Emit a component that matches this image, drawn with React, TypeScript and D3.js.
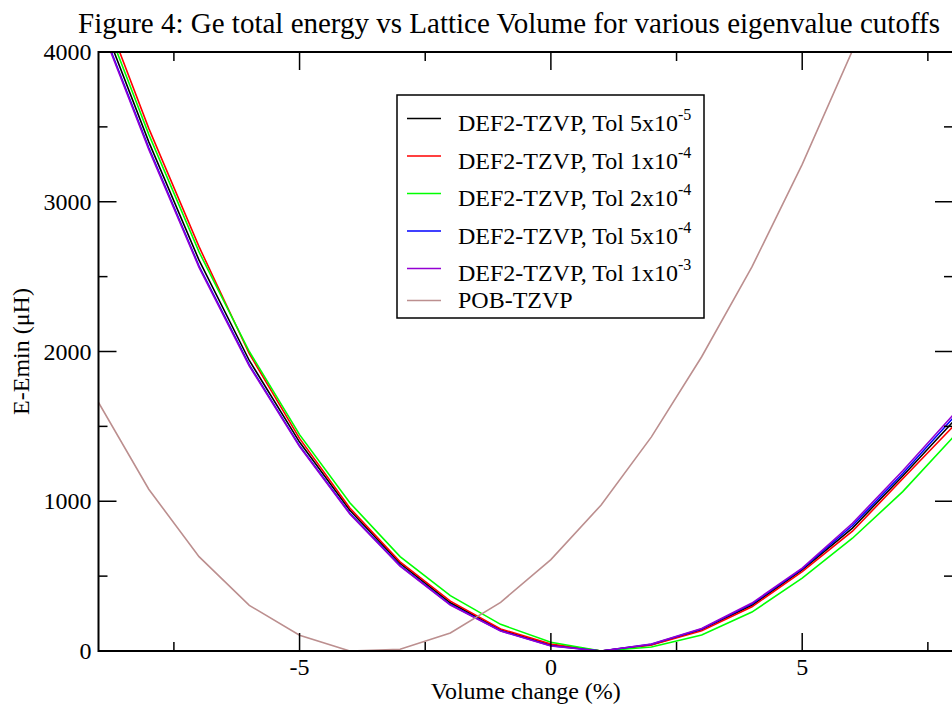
import {useEffect, useRef} from "react";
import * as d3 from "d3";

// volume change (%) sampled at each integer
const volumeChange = [-9, -8, -7, -6, -5, -4, -3, -2, -1, 0, 1, 2, 3, 4, 5, 6, 7, 8];

const tol5e5 = [4270, 3400, 2610, 1940, 1395, 940, 585, 322, 142, 40, 0, 42, 143, 305, 541, 821, 1169, 1531];
const tol1e4 = [4370, 3490, 2700, 1985, 1420, 955, 595, 333, 147, 46, 0, 40, 135, 295, 530, 800, 1150, 1498];
const tol2e4 = [4320, 3450, 2665, 2000, 1445, 990, 630, 370, 178, 58, 0, 27, 107, 260, 487, 753, 1064, 1427];
const tol5e4 = [4220, 3360, 2570, 1910, 1370, 920, 570, 310, 135, 35, 0, 45, 147, 315, 548, 838, 1185, 1556];
const tol1e3 = [4210, 3350, 2562, 1903, 1365, 915, 566, 307, 133, 33, 0, 47, 150, 320, 554, 853, 1204, 1576];
const pobTzvp = [1660, 1080, 630, 305, 105, 0, 12, 120, 325, 610, 975, 1430, 1965, 2565, 3250, 4010, 4850, 5770];

const seriesLabels = ["DEF2-TZVP, Tol 5x10", "DEF2-TZVP, Tol 1x10", "DEF2-TZVP, Tol 2x10", "DEF2-TZVP, Tol 5x10", "DEF2-TZVP, Tol 1x10", "POB-TZVP"];
const seriesExponents = ["-5", "-4", "-4", "-4", "-3", ""];
const seriesColors = ["#000000", "#ff0000", "#00ff00", "#0000ff", "#9400d3", "#bc8f8f"];
const seriesValues = [tol5e5, tol1e4, tol2e4, tol5e4, tol1e3, pobTzvp];

const xMajorTicks = [-5, 0, 5];
const xMinorTicks = [-7.5, -2.5, 2.5, 7.5];
const yMajorTicks = [0, 1000, 2000, 3000, 4000];
const yMinorTicks = [500, 1500, 2500, 3500];

const App = () => {
	const svgRef = useRef(null);

	useEffect(() => {
		const width = 952;
		const height = 706;
		const left = 98.5;
		const right = 953;
		const top = 52;
		const bottom = 651;
		const font = "'Liberation Serif', 'Times New Roman', serif";

		const x = d3.scaleLinear().domain([-9, 8]).range([left, right]);
		const y = d3.scaleLinear().domain([0, 4000]).range([bottom, top]);

		const svg = d3
			.select(svgRef.current)
			.attr("width", width)
			.attr("height", height)
			.attr("viewBox", [0, 0, width, height])
			.style("position", "absolute")
			.style("left", "0px")
			.style("top", "0px")
			.style("background", "#fff");

		svg.selectAll("*").remove();

		svg.append("defs")
			.append("clipPath")
			.attr("id", "plot-clip")
			.append("rect")
			.attr("x", left)
			.attr("y", top)
			.attr("width", right - left)
			.attr("height", bottom - top);

		// curves
		const line = d3
			.line<number>()
			.x((d, i) => x(volumeChange[i]))
			.y((d) => y(d));

		const curves = svg.append("g").attr("clip-path", "url(#plot-clip)");
		seriesValues.forEach((vals, i) => {
			curves
				.append("path")
				.attr("fill", "none")
				.attr("stroke", seriesColors[i])
				.attr("stroke-width", 1.6)
				.attr("d", line(vals));
		});

		// frame
		svg.append("rect")
			.attr("x", left)
			.attr("y", top)
			.attr("width", right - left)
			.attr("height", bottom - top)
			.attr("fill", "none")
			.attr("stroke", "#000")
			.attr("stroke-width", 2);

		// ticks, inward on all four sides
		const ticks = svg.append("g").attr("stroke", "#000").attr("stroke-width", 1.5);
		const addX = (vals, len) => {
			vals.forEach((v) => {
				ticks.append("line").attr("x1", x(v)).attr("x2", x(v)).attr("y1", bottom).attr("y2", bottom - len);
				ticks.append("line").attr("x1", x(v)).attr("x2", x(v)).attr("y1", top).attr("y2", top + len);
			});
		};
		const addY = (vals, len) => {
			vals.forEach((v) => {
				ticks.append("line").attr("x1", left).attr("x2", left + len).attr("y1", y(v)).attr("y2", y(v));
				ticks.append("line").attr("x1", right).attr("x2", right - len).attr("y1", y(v)).attr("y2", y(v));
			});
		};
		addX(xMajorTicks, 18);
		addX(xMinorTicks, 9);
		addY(yMajorTicks, 18);
		addY(yMinorTicks, 9);

		// tick labels
		svg.selectAll(".xlab")
			.data(xMajorTicks)
			.enter()
			.append("text")
			.attr("x", (d) => x(d))
			.attr("y", 675)
			.attr("text-anchor", "middle")
			.attr("font-family", font)
			.attr("font-size", 24)
			.text((d) => d);

		svg.selectAll(".ylab")
			.data(yMajorTicks)
			.enter()
			.append("text")
			.attr("x", left - 7)
			.attr("y", (d) => y(d) + 8)
			.attr("text-anchor", "end")
			.attr("font-family", font)
			.attr("font-size", 24)
			.text((d) => d);

		// title and axis labels
		svg.append("text")
			.attr("x", 509)
			.attr("y", 33)
			.attr("text-anchor", "middle")
			.attr("font-family", font)
			.attr("font-size", 29)
			.text("Figure 4: Ge total energy vs Lattice Volume for various eigenvalue cutoffs");

		svg.append("text")
			.attr("x", (left + right) / 2)
			.attr("y", 699)
			.attr("text-anchor", "middle")
			.attr("font-family", font)
			.attr("font-size", 24)
			.text("Volume change (%)");

		svg.append("text")
			.attr("transform", `translate(29,${(top + bottom) / 2}) rotate(-90)`)
			.attr("text-anchor", "middle")
			.attr("font-family", font)
			.attr("font-size", 24)
			.text("E-Emin (\u03bcH)");

		// legend
		const legend = svg.append("g");
		legend
			.append("rect")
			.attr("x", 397)
			.attr("y", 95)
			.attr("width", 307)
			.attr("height", 223)
			.attr("fill", "#fff")
			.attr("stroke", "#000")
			.attr("stroke-width", 1.5);

		const baselines = [131, 168.5, 206, 243.5, 281, 308];
		seriesLabels.forEach((label, i) => {
			const lineY = seriesExponents[i] ? baselines[i] - 12.5 : baselines[i] - 7.5;
			legend
				.append("line")
				.attr("x1", 407)
				.attr("x2", 441)
				.attr("y1", lineY)
				.attr("y2", lineY)
				.attr("stroke", seriesColors[i])
				.attr("stroke-width", 1.6);
			const t = legend
				.append("text")
				.attr("x", 458)
				.attr("y", baselines[i])
				.attr("font-family", font)
				.attr("font-size", 24);
			t.append("tspan").text(label);
			if (seriesExponents[i]) {
				t.append("tspan").attr("dy", -11).attr("font-size", 16).text(seriesExponents[i]);
			}
		});
	}, []);

	return (
		<div>
			<svg ref={svgRef}></svg>
		</div>
	);
};

export default App;
